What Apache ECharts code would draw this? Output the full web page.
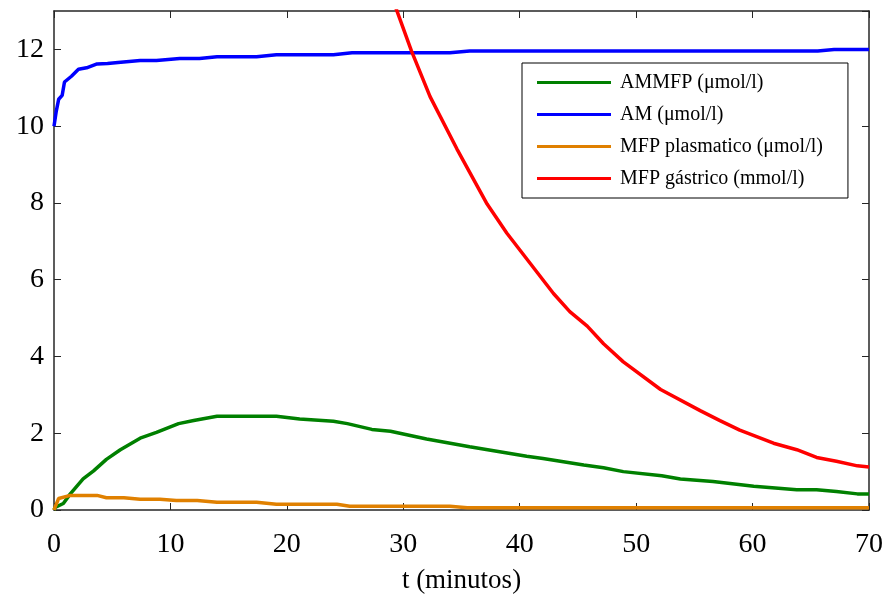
<!DOCTYPE html>
<html>
<head>
<meta charset="utf-8">
<script src="https://cdn.jsdelivr.net/npm/echarts@6/dist/echarts.min.js"></script>
<style>
html,body{margin:0;padding:0;background:#fff;}
#chart{width:888px;height:599px;}
</style>
</head>
<body>
<div id="chart"></div>
<script>
// ---- data (t in minutes, value) ----
var seriesNames = ['AMMFP (μmol/l)', 'AM (μmol/l)', 'MFP plasmatico (μmol/l)', 'MFP gástrico (mmol/l)'];
var xTicks = [0, 10, 20, 30, 40, 50, 60, 70];
var yTicks = [0, 2, 4, 6, 8, 10, 12];

var ammfp = [[0,0],[0.1,0.07],[0.8,0.17],[1.4,0.42],[2.5,0.81],[3.4,1.02],[4.5,1.32],[5.7,1.57],[7.4,1.87],
  [8.8,2.02],[10.7,2.25],[12,2.33],[14,2.44],[19.1,2.44],[21.1,2.37],[24,2.31],[25.2,2.25],[27.3,2.1],[28.9,2.05],
  [32,1.85],[35.7,1.65],[40.6,1.4],[42,1.34],[45.5,1.17],[47.2,1.1],[48.9,1.0],[52.2,0.89],[53.8,0.81],[56.6,0.74],
  [60.1,0.62],[63.8,0.53],[65.5,0.53],[67.2,0.48],[69,0.42],[70,0.42]];
var am = [[0,10.0],[0.2,10.4],[0.4,10.7],[0.7,10.8],[0.9,11.15],[1.5,11.3],[2.1,11.48],[2.8,11.52],[3.7,11.62],
  [4.6,11.63],[5.5,11.66],[7.4,11.71],[8.8,11.71],[10.8,11.76],[12.5,11.76],[14,11.81],[17.4,11.81],[19.1,11.86],
  [24,11.86],[25.6,11.91],[34,11.91],[35.7,11.96],[65.6,11.96],[67,12.0],[70,12.0]];
var mfpPlasma = [[0,0],[0.1,0.08],[0.4,0.3],[1.4,0.38],[3.7,0.38],[4.5,0.32],[6,0.32],[7.4,0.28],[9.1,0.28],
  [10.5,0.25],[12.3,0.25],[14,0.2],[17.4,0.2],[19.1,0.15],[24.3,0.15],[25.4,0.1],[34,0.1],[35.5,0.06],[70,0.06]];
var mfpGastric = [[29.1,13.3],[30.7,11.96],[32.3,10.77],[34.6,9.41],[37.2,7.97],[38.9,7.21],[42.9,5.64],[44.3,5.17],
  [45.8,4.79],[47.2,4.33],[48.9,3.86],[52.1,3.14],[55.5,2.59],[57.2,2.33],[58.9,2.08],[61.8,1.74],[63.8,1.57],
  [65.5,1.37],[67.2,1.27],[69,1.15],[70,1.12]];

var colors = ['#008000', '#0000ff', '#e08000', '#ff0000'];
var dataSets = [ammfp, am, mfpPlasma, mfpGastric];

var font = 'Liberation Serif, Times New Roman, serif';
var axisColor = '#262626';

var chart = echarts.init(document.getElementById('chart'), null, {renderer: 'canvas'});
var option = {
  animation: false,
  backgroundColor: '#ffffff',
  grid: {left: 54, right: 19, top: 11, bottom: 79, containLabel: false},
  legend: {
    orient: 'vertical',
    left: 522, top: 63,
    padding: [9, 25, 9, 15],
    backgroundColor: '#ffffff',
    borderColor: '#000000', borderWidth: 1,
    itemWidth: 74, itemHeight: 3, itemGap: 11,
    icon: 'rect',
    textStyle: {fontFamily: font, fontSize: 20, color: '#000', lineHeight: 21, padding: [0, 0, 0, 4]},
    data: seriesNames
  },
  xAxis: [{
    type: 'value', min: xTicks[0], max: xTicks[xTicks.length - 1], interval: 10,
    name: 't (minutos)', nameLocation: 'middle', nameGap: 57,
    nameTextStyle: {fontFamily: font, fontSize: 27, color: '#000'},
    axisLine: {show: true, onZero: false, lineStyle: {color: axisColor, width: 1.5}},
    axisTick: {show: true, inside: true, length: 7, lineStyle: {color: axisColor}},
    axisLabel: {fontFamily: font, fontSize: 28, color: '#000', margin: 21},
    splitLine: {show: false}
  }, {
    type: 'value', position: 'top', min: xTicks[0], max: xTicks[xTicks.length - 1], interval: 10,
    axisLine: {show: true, onZero: false, lineStyle: {color: axisColor, width: 1.5}},
    axisTick: {show: true, inside: true, length: 7, lineStyle: {color: axisColor}},
    axisLabel: {show: false}, splitLine: {show: false}
  }],
  yAxis: [{
    type: 'value', min: 0, max: 13, interval: 2,
    axisLine: {show: true, onZero: false, lineStyle: {color: axisColor, width: 1.5}},
    axisTick: {show: true, inside: true, length: 7, lineStyle: {color: axisColor}},
    axisLabel: {fontFamily: font, fontSize: 28, color: '#000', margin: 10, showMaxLabel: false,
      formatter: function (v) { return yTicks.indexOf(v) >= 0 ? String(v) : ''; }},
    splitLine: {show: false}
  }, {
    type: 'value', position: 'right', min: 0, max: 13, interval: 2,
    axisLine: {show: true, onZero: false, lineStyle: {color: axisColor, width: 1.5}},
    axisTick: {show: true, inside: true, length: 7, lineStyle: {color: axisColor}},
    axisLabel: {show: false}, splitLine: {show: false}
  }],
  series: seriesNames.map(function (n, i) {
    return {
      name: n, type: 'line', data: dataSets[i], xAxisIndex: 0, yAxisIndex: 0,
      showSymbol: false, symbol: 'none', clip: true,
      itemStyle: {color: colors[i]},
      lineStyle: {color: colors[i], width: 3.5}
    };
  })
};
chart.setOption(option);
</script>
</body>
</html>
